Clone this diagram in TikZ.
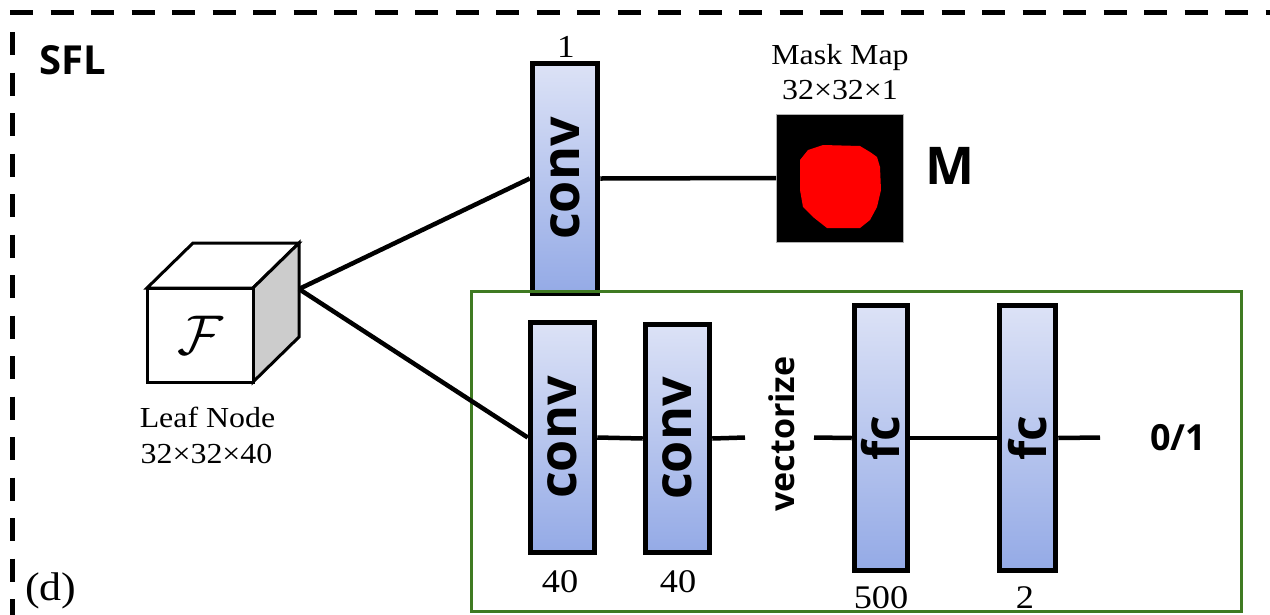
\documentclass[tikz,border=0pt]{standalone}
\usepackage{fontspec}
\setmainfont{Liberation Serif}[FakeStretch=1.1]
\newfontfamily\osans{Open Sans}
\usetikzlibrary{calc}
\definecolor{gboxc}{HTML}{3F7A22}
\definecolor{ltop}{HTML}{DCE2F6}
\definecolor{lbot}{HTML}{94AAE6}
\definecolor{sidegray}{HTML}{CCCCCC}
\definecolor{maskred}{HTML}{FF0000}
\tikzset{
  layer/.style={draw=black, line width=5.5pt, top color=ltop, bottom color=lbot, inner sep=0pt},
  conn/.style={line width=4.5pt, line cap=butt},
  cubeline/.style={line width=3pt, line join=miter},
  serlbl/.style={font=\fontsize{29}{29}\selectfont, inner sep=0pt, anchor=base},
  numlbl/.style={font=\fontsize{33}{33}\selectfont, inner sep=0pt, anchor=base},
  boldlbl/.style={font=\osans\bfseries, inner sep=0pt},
  bordash/.style={line width=5pt, dash pattern=on 23pt off 17.5pt},
}
\begin{document}
\begin{tikzpicture}[x=1pt,y=-1pt]
\useasboundingbox (0,0) rectangle (1270,614);
\clip (0,0) rectangle (1270,614);
% dashed outer frame
\draw[bordash] (10,12) -- (1300,12);
\draw[bordash] (12,32) -- (12,650);
\node[boldlbl, font=\osans\bfseries\fontsize{40}{40}\selectfont, anchor=base west] (sfl) at (39,74) {SFL};
% cube
\draw[cubeline, fill=white] (147,288) -- (193,243) -- (299,243) -- (253,288) -- cycle;
\draw[cubeline, fill=sidegray] (253,288) -- (299,243) -- (299,337) -- (253,382) -- cycle;
\node[cubeline, draw, fill=white, minimum width=106, minimum height=94, inner sep=0pt] (front) at (200,335)
  {\scalebox{5.6}{$\mathcal{F}$}};
\coordinate (cout) at (299,289);
\node[serlbl] (leaf1) at (207.5,427) {Leaf Node};
\node[serlbl] (leaf2) at (206.5,463) {32×32×40};
% upper branch
\node[layer, minimum width=65, minimum height=230] (c1) at (565,178.5)
  {\rotatebox{90}{\osans\bfseries\fontsize{52}{52}\selectfont conv}};
\node[numlbl, font=\fontsize{32}{32}\selectfont] (c1n) at (566,57) {1};
\node[fill=black, draw=gray!60, line width=0.8pt, minimum width=127, minimum height=128, inner sep=0pt] (mask) at (840,178) {};
\fill[maskred] (808,150) -- (823,145) -- (860,146) -- (870,152) -- (877,157) -- (880,167) -- (881,190) -- (877,207)
  -- (870,220) -- (860,228) -- (827,228) -- (813,217) -- (803,207) -- (800,190) -- (800,160) -- cycle;
\node[serlbl] (mm1) at (840,64) {Mask Map};
\node[serlbl] (mm2) at (840,99) {32×32×1};
\node[boldlbl, font=\osans\bfseries\fontsize{52}{52}\selectfont, anchor=base] (mlab) at (950,184) {M};
\draw[conn] (cout) -- (c1.west);
\draw[conn] (c1.east) -- (mask.west);
% green box
\draw[gboxc, line width=3pt] (471.5,291.5) rectangle (1241.5,611);
% lower branch
\node[layer, minimum width=64, minimum height=230] (c2) at (562.5,437.5)
  {\rotatebox{90}{\osans\bfseries\fontsize{52}{52}\selectfont conv}};
\node[layer, minimum width=64, minimum height=228] (c3) at (677.5,438.5)
  {\rotatebox{90}{\osans\bfseries\fontsize{52}{52}\selectfont conv}};
\node[boldlbl, font=\osans\bfseries\fontsize{34}{34}\selectfont, rotate=90] (vec) at (782,434) {vectorize};
\node[layer, minimum width=53, minimum height=265] (f1) at (881,438)
  {\rotatebox{90}{\osans\bfseries\fontsize{50}{50}\selectfont fc}};
\node[layer, minimum width=56, minimum height=265] (f2) at (1027.5,438)
  {\rotatebox{90}{\osans\bfseries\fontsize{50}{50}\selectfont fc}};
\coordinate (v1) at (745,437.5);
\coordinate (v2) at (814,437.5);
\coordinate (o1) at (1100,437.5);
\draw[conn] (cout) -- (c2.west);
\draw[conn] (c2.east) -- (c3.west);
\draw[conn] (c3.east) -- (v1);
\draw[conn] (v2) -- (f1.west);
\draw[conn] (f1.east) -- (f2.west);
\draw[conn] (f2.east) -- (o1);
\node[boldlbl, font=\osans\bfseries\fontsize{36}{36}\selectfont, anchor=base west] (out) at (1150,450) {0/1};
\node[numlbl] (n2) at (560,592) {40};
\node[numlbl] (n3) at (678,592) {40};
\node[numlbl] (n4) at (881,608) {500};
\node[numlbl] (n5) at (1025,608) {2};
\node[font=\fontsize{40}{40}\selectfont, inner sep=0pt, anchor=base west] (dlab) at (25,600) {(d)};
\end{tikzpicture}
\end{document}
